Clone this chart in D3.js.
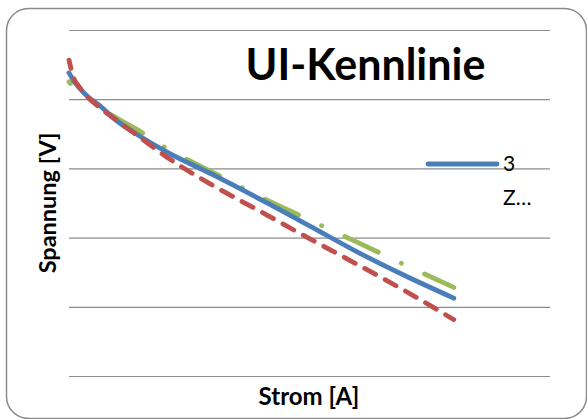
<!DOCTYPE html>
<html>
<head>
<meta charset="utf-8">
<script src="https://cdn.jsdelivr.net/npm/d3@7/dist/d3.min.js"></script>
<style>
  html, body { margin: 0; padding: 0; background: #fff; }
  svg { display: block; font-family: Lato, "Open Sans", sans-serif; }
</style>
</head>
<body>
<svg id="chart" width="587" height="419"></svg>
<script>
// Current [A] at which the voltage was recorded
const current = [0, 0.05, 0.1, 0.2, 0.3, 0.5, 0.75, 1.0, 1.5, 2.0, 2.5, 3.0, 3.5, 4.0];
// Voltage [V] of the three series
const seriesBlue  = [8.76, 8.53, 8.35, 8.06, 7.86, 7.37, 6.91, 6.50, 5.81, 5.09, 4.34, 3.58, 2.89, 2.25];
const seriesRed   = [9.13, 8.60, 8.38, 8.05, 7.80, 7.38, 6.87, 6.36, 5.50, 4.74, 3.97, 3.22, 2.45, 1.63];
const seriesGreen = [8.50, 8.35, 8.22, 8.03, 7.80, 7.45, 7.05, 6.60, 5.88, 5.16, 4.51, 3.86, 3.20, 2.56];
// Horizontal gridline values
const yTicks = [0, 2, 4, 6, 8, 10];
const legendLabel = ["3", "Z…"];

const svg = d3.select("#chart");

// Outer chart frame with rounded corners
svg.append("rect")
  .attr("x", 6.5).attr("y", 8.5)
  .attr("width", 580).attr("height", 410)
  .attr("rx", 22).attr("ry", 22)
  .attr("fill", "#fff")
  .attr("stroke", "#8a8a8a")
  .attr("stroke-width", 1.5);

const plot = { left: 69, right: 550, top: 30, bottom: 376 };
const x = d3.scaleLinear().domain([0, 5]).range([plot.left, plot.right]);
const y = d3.scaleLinear().domain([0, 10]).range([plot.bottom, plot.top]);

// Horizontal gridlines (no tick labels)
const grid = svg.append("g")
  .attr("transform", `translate(${plot.left},0)`)
  .call(d3.axisLeft(y).tickValues(yTicks).tickSize(-(plot.right - plot.left)).tickFormat(""));
grid.select(".domain").remove();
grid.selectAll(".tick line").attr("stroke", "#8c8c8c").attr("stroke-width", 1.2);

// Title
svg.append("text")
  .attr("x", 365.5).attr("y", 80)
  .attr("text-anchor", "middle")
  .attr("font-weight", "bold")
  .attr("font-size", 43)
  .attr("fill", "#000")
  .text("UI-Kennlinie");

// Axis titles
svg.append("text")
  .attr("transform", "translate(56,203) rotate(-90)")
  .attr("text-anchor", "middle")
  .attr("font-weight", "bold")
  .attr("font-size", 23.5)
  .text("Spannung [V]");

svg.append("text")
  .attr("x", 309).attr("y", 405)
  .attr("text-anchor", "middle")
  .attr("font-weight", "bold")
  .attr("font-size", 24)
  .text("Strom [A]");

// Series lines
const line = d3.line()
  .x((d, i) => x(current[i]))
  .y(d => y(d))
  .curve(d3.curveMonotoneX);

const series = [
  { values: seriesBlue,  color: "#4a7ebb", dash: null, offset: 0 },
  { values: seriesRed,   color: "#c0504d", dash: "12.5,10.8", offset: 4 },
  { values: seriesGreen, color: "#9bbb59", dash: "37,25.5,0.1,25.5", offset: 35 }
];

// green underneath, then blue, red dashes on top
[series[2], series[0], series[1]].forEach(s => {
  svg.append("path")
    .datum(s.values)
    .attr("d", line)
    .attr("fill", "none")
    .attr("stroke", s.color)
    .attr("stroke-width", 4.8)
    .attr("stroke-linecap", "round")
    .attr("stroke-linejoin", "round")
    .attr("stroke-dasharray", s.dash)
    .attr("stroke-dashoffset", s.offset);
});

// Legend (first series only, name wrapped)
const legend = svg.append("g");
legend.append("line")
  .attr("x1", 428).attr("x2", 497)
  .attr("y1", 164).attr("y2", 164)
  .attr("stroke", "#4a7ebb")
  .attr("stroke-width", 4.8)
  .attr("stroke-linecap", "round");
legend.append("text")
  .attr("x", 503).attr("y", 171)
  .attr("font-size", 21)
  .text(legendLabel[0]);
legend.append("text")
  .attr("x", 503).attr("y", 205)
  .attr("font-size", 21)
  .text(legendLabel[1]);
</script>
</body>
</html>
